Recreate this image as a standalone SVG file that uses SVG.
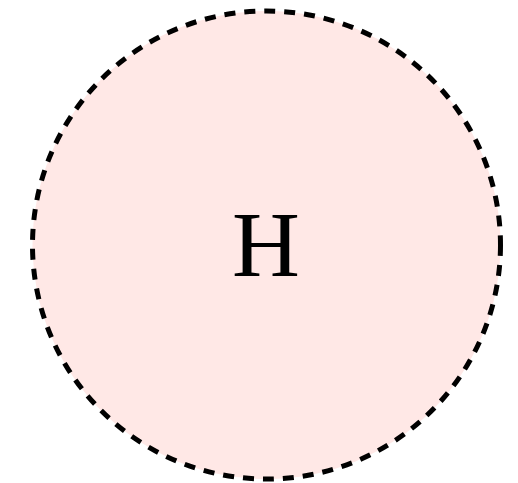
<svg xmlns="http://www.w3.org/2000/svg" width="518" height="483" viewBox="0 0 518 483">
<style>
.node-shape{fill:#ffe8e6;stroke:#000;stroke-width:5;stroke-dasharray:11 9}
.label{font-family:"Liberation Serif","Times New Roman",serif;font-size:94px;fill:#000;text-anchor:middle}
</style>
<rect width="518" height="483" fill="#fff"/>
<g id="connectors"></g>
<g id="node-H">
<circle class="node-shape" cx="266.5" cy="245" r="234"/>
<text class="label" x="266" y="276">H</text>
</g>
</svg>
